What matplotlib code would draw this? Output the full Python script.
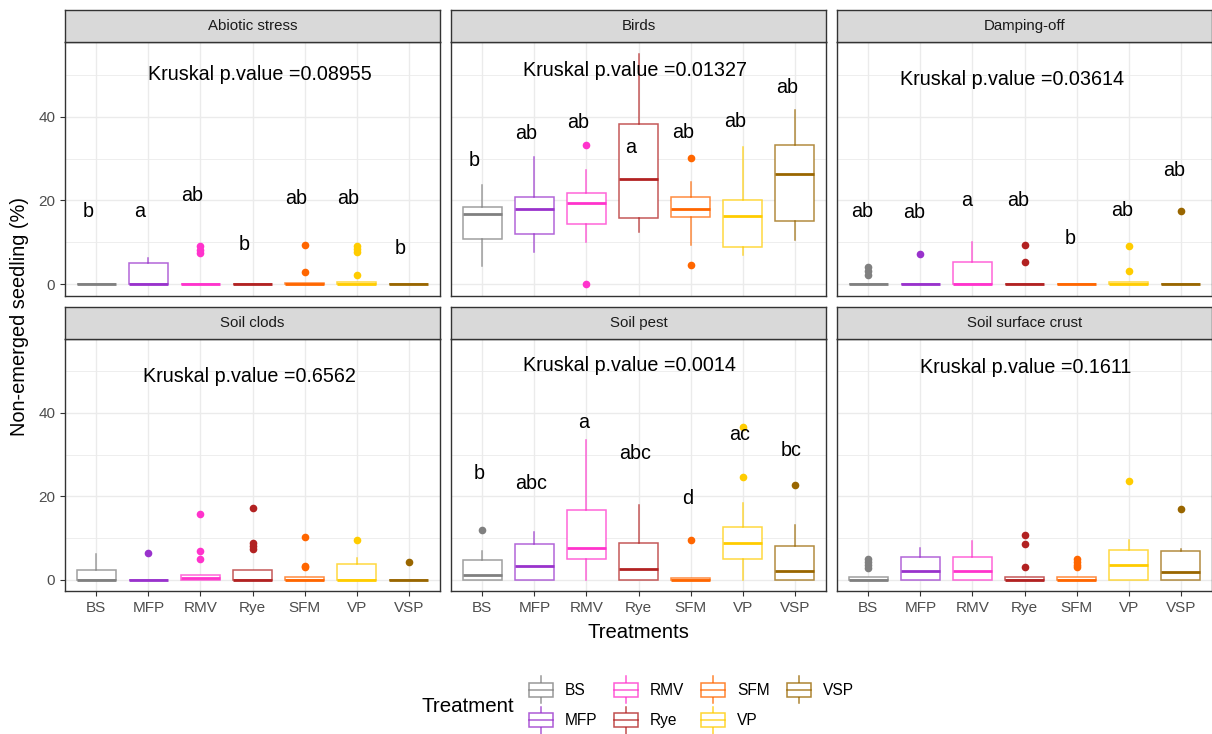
import numpy as np
import matplotlib
matplotlib.use("Agg")
import matplotlib.pyplot as plt
from matplotlib.colors import to_rgba
from matplotlib.legend_handler import HandlerBase
from matplotlib.patches import Patch, Rectangle
from matplotlib.lines import Line2D

plt.rcParams["font.family"] = ["Liberation Sans", "DejaVu Sans"]

treatments = ["BS", "MFP", "RMV", "Rye", "SFM", "VP", "VSP"]
colors = ["#808080", "#9932CC", "#FF33CC", "#B22222", "#FF6600", "#FFCC00", "#996600"]
facets = ["Abiotic stress", "Birds", "Damping-off", "Soil clods", "Soil pest", "Soil surface crust"]

# (whislo, q1, med, q3, whishi) per treatment
abiotic_box = [(0, 0, 0, 0, 0), (0, 0, 0, 5.0, 6.3), (0, 0, 0, 0, 0), (0, 0, 0, 0, 0),
               (0, 0, 0, 0.3, 0.3), (0, 0, 0, 0.7, 0.7), (0, 0, 0, 0, 0)]
abiotic_out = [[], [], [9.1, 8.3, 7.5], [], [9.3, 2.95], [9.1, 8.4, 7.7, 2.3], []]
abiotic_letters = ["b", "a", "ab", "b", "ab", "ab", "b"]
abiotic_letter_y = [16.0, 16.0, 19.9, 8.1, 19.1, 19.1, 7.3]

birds_box = [(4.5, 10.9, 16.8, 18.5, 23.6), (7.7, 12.1, 18.0, 20.9, 30.3), (10.1, 14.5, 19.3, 21.9, 27.2),
             (12.5, 15.9, 25.1, 38.1, 54.9), (9.5, 16.1, 18.0, 20.9, 24.3), (6.9, 8.9, 16.4, 20.2, 32.8),
             (10.5, 15.1, 26.4, 33.1, 41.6)]
birds_out = [[], [], [33.2, 0.0], [], [30.2, 4.6], [], []]
birds_letters = ["b", "ab", "ab", "a", "ab", "ab", "ab"]
birds_letter_y = [28.3, 34.6, 37.3, 31.2, 34.8, 37.4, 45.6]

damping_box = [(0, 0, 0, 0, 0), (0, 0, 0, 0, 0), (0, 0, 0, 5.3, 10.1), (0, 0, 0, 0, 0),
               (0, 0, 0, 0, 0), (0, 0, 0, 0.7, 0.7), (0, 0, 0, 0, 0)]
damping_out = [[4.2, 3.3, 2.3], [7.3], [], [9.3, 5.3], [], [9.1, 3.3], [17.5]]
damping_letters = ["ab", "ab", "a", "ab", "b", "ab", "ab"]
damping_letter_y = [16.0, 15.9, 18.7, 18.6, 9.7, 16.2, 25.9]

clods_box = [(0, 0, 0, 2.4, 6.1), (0, 0, 0, 0, 0), (0, 0, 0.3, 1.1, 1.1), (0, 0, 0, 2.2, 2.2),
             (0, 0, 0, 0.7, 0.7), (0, 0, 0, 3.8, 5.1), (0, 0, 0, 0, 0)]
clods_out = [[], [6.4], [15.7, 6.8, 5.0], [17.1, 8.8, 8.0, 7.3], [10.1, 3.3, 3.0], [9.5], [4.2]]
clods_letters = ["", "", "", "", "", "", ""]
clods_letter_y = [0, 0, 0, 0, 0, 0, 0]

pest_box = [(0, 0, 1.0, 4.8, 6.9), (0, 0, 3.3, 8.5, 11.5), (0, 5.0, 7.6, 16.7, 33.4),
            (0, 0, 2.6, 8.8, 17.9), (0, 0, 0, 0.3, 0.3), (0, 5.0, 8.7, 12.7, 18.4),
            (0, 0, 2.1, 8.1, 13.2)]
pest_out = [[12.0], [], [], [], [9.4], [36.6, 24.7], [22.7]]
pest_letters = ["b", "abc", "a", "abc", "d", "ac", "bc"]
pest_letter_y = [24.1, 21.7, 36.3, 28.9, 18.1, 33.4, 29.7]

crust_box = [(0, 0, 0, 0.5, 0.5), (0, 0, 2.1, 5.4, 7.5), (0, 0, 2.1, 5.4, 9.2), (0, 0, 0, 0.5, 0.5),
             (0, 0, 0, 0.5, 0.5), (0, 0, 3.6, 7.0, 9.5), (0, 0, 1.7, 6.8, 7.3)]
crust_out = [[5.0, 4.3, 3.5, 2.8], [], [], [10.8, 8.5, 3.0], [5.0, 4.3, 3.6, 2.9], [23.7], [17.0]]
crust_letters = ["", "", "", "", "", "", ""]
crust_letter_y = [0, 0, 0, 0, 0, 0, 0]

kruskal_p = ["0.08955", "0.01327", "0.03614", "0.6562", "0.0014", "0.1611"]
kruskal_x = [4.15, 3.94, 3.77, 3.94, 3.82, 4.03]
kruskal_y = [48.8, 49.7, 47.4, 47.5, 50.1, 49.7]
letter_dx = [-0.16, -0.15, -0.12, 0.0, -0.06, 0.0]

panel_data = [
    (abiotic_box, abiotic_out, abiotic_letters, abiotic_letter_y),
    (birds_box, birds_out, birds_letters, birds_letter_y),
    (damping_box, damping_out, damping_letters, damping_letter_y),
    (clods_box, clods_out, clods_letters, clods_letter_y),
    (pest_box, pest_out, pest_letters, pest_letter_y),
    (crust_box, crust_out, crust_letters, crust_letter_y),
]

W, H = 1212, 734
fig = plt.figure(figsize=(W / 100, H / 100), dpi=100)

col_x = [65, 451, 837]
panel_w = 375
rows = [(10, 42, 296), (307, 339, 591)]  # strip top, panel top, panel bottom

positions = np.arange(1, len(treatments) + 1)

for k, name in enumerate(facets):
    r, c = divmod(k, 3)
    st, pt, pb = rows[r]
    x0 = col_x[c]
    ax = fig.add_axes([x0 / W, 1 - pb / H, panel_w / W, (pb - pt) / H])
    sax = fig.add_axes([x0 / W, 1 - pt / H, panel_w / W, (pt - st) / H])

    # strip
    sax.set_facecolor("#D9D9D9")
    sax.set_xticks([])
    sax.set_yticks([])
    for s in sax.spines.values():
        s.set_color("#333333")
        s.set_linewidth(1)
    sax.text(0.5, 0.5, name, transform=sax.transAxes, ha="center", va="center",
             fontsize=10.8, color="#1A1A1A")

    box, out, letters, ly = panel_data[k]
    for i, t in enumerate(treatments):
        lo, q1, med, q3, hi = box[i]
        stats = [dict(whislo=lo, q1=q1, med=med, q3=q3, whishi=hi, fliers=out[i])]
        col = colors[i]
        light = to_rgba(col, 0.75)
        ax.bxp(stats, positions=[positions[i]], widths=0.75, showcaps=False,
               patch_artist=True,
               boxprops=dict(facecolor="white", edgecolor=light, linewidth=1.1),
               whiskerprops=dict(color=light, linewidth=1.1),
               medianprops=dict(color=col, linewidth=2.0, solid_capstyle="butt"),
               flierprops=dict(marker="o", markerfacecolor=col, markeredgecolor="none",
                               markersize=5.5),
               manage_ticks=False, zorder=3)
        if letters[i]:
            ax.text(positions[i] + letter_dx[k], ly[i], letters[i], ha="center",
                    va="baseline", fontsize=14.2, color="black", zorder=4)

    ax.text(kruskal_x[k], kruskal_y[k], "Kruskal p.value =" + kruskal_p[k], ha="center",
            va="baseline", fontsize=14.2, color="black", zorder=4)

    ax.set_xlim(0.4, 7.6)
    ax.set_ylim(-2.75, 57.75)
    ax.set_xticks(positions)
    ax.set_yticks([0, 20, 40])
    ax.set_yticks([10, 30, 50], minor=True)
    ax.set_axisbelow(True)
    ax.grid(True, which="major", color="#EBEBEB", linewidth=1.0)
    ax.grid(True, which="minor", axis="y", color="#EBEBEB", linewidth=0.6)
    ax.tick_params(which="minor", length=0)
    ax.tick_params(which="major", color="#333333", length=3.5, width=0.8,
                   labelcolor="#4D4D4D", labelsize=11)
    for s in ax.spines.values():
        s.set_color("#333333")
        s.set_linewidth(1)
    if r == 1:
        ax.set_xticklabels(treatments)
    else:
        ax.tick_params(axis="x", length=0, labelbottom=False)
    if c == 0:
        ax.set_yticklabels(["0", "20", "40"])
    else:
        ax.tick_params(axis="y", length=0, labelleft=False)

fig.text(20 / W, 1 - 317 / H, "Non-emerged seedling (%)", rotation=90, ha="center",
         va="center", fontsize=14.4, color="black")
fig.text(638 / W, 1 - 632 / H, "Treatments", ha="center", va="center",
         fontsize=14.6, color="black")


class BoxHandler(HandlerBase):
    def create_artists(self, legend, orig_handle, xdescent, ydescent, width, height,
                       fontsize, trans):
        col = orig_handle.get_edgecolor()
        bh = height * 0.52
        y0 = -ydescent + (height - bh) / 2
        xl = -xdescent
        xm = xl + width / 2
        mid = -ydescent + height / 2
        rect = Rectangle((xl, y0), width, bh, facecolor="white", edgecolor=col,
                         linewidth=1.1, transform=trans)
        med = Line2D([xl, xl + width], [mid, mid], color=col, linewidth=1.1, transform=trans)
        wt = Line2D([xm, xm], [y0 + bh, -ydescent + height], color=col, linewidth=1.1,
                    transform=trans)
        wb = Line2D([xm, xm], [-ydescent, y0], color=col, linewidth=1.1, transform=trans)
        return [wb, wt, rect, med]


handles = [Patch(edgecolor=to_rgba(cl, 0.8), facecolor="white") for cl in colors]
leg = fig.legend(handles, treatments, loc="center left",
                 bbox_to_anchor=(529 / W, 1 - 705 / H), ncol=4, frameon=False,
                 fontsize=11.2, handler_map={Patch: BoxHandler()},
                 handlelength=1.54, handleheight=2.3, handletextpad=0.75,
                 columnspacing=1.1, labelspacing=0.2, borderpad=0, borderaxespad=0)
fig.text(422 / W, 1 - 707 / H, "Treatment", ha="left", va="center", fontsize=14.8,
         color="black")

fig.savefig("out.png", dpi=100)
